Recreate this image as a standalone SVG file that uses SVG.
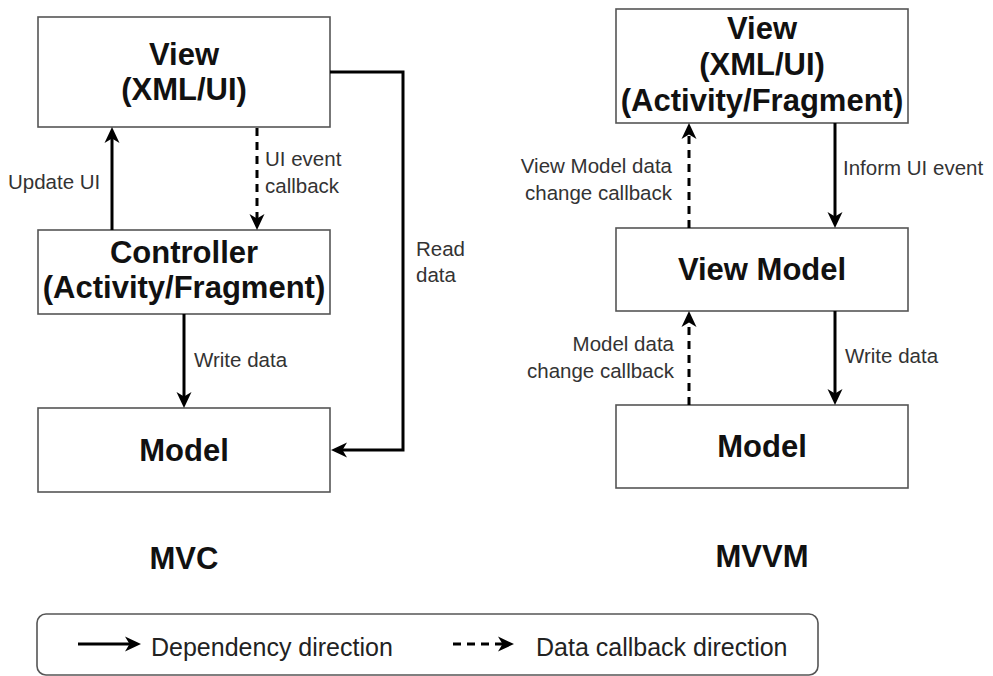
<svg xmlns="http://www.w3.org/2000/svg" width="993" height="676" viewBox="0 0 993 676">
  <style>
    .box { fill: #ffffff; stroke: #555555; stroke-width: 1.6; }
    .title { font-family: "Liberation Sans", Arial, sans-serif; font-weight: bold; font-size: 31px; fill: #111111; text-anchor: middle; }
    .lbl { font-family: "Liberation Sans", Arial, sans-serif; font-size: 20.5px; fill: #333333; }
    .lbl-r { text-anchor: end; }
    .legend { font-family: "Liberation Sans", Arial, sans-serif; font-size: 25px; fill: #222222; }
    .solid { fill: none; stroke: #000000; stroke-width: 3; }
    .dash { fill: none; stroke: #000000; stroke-width: 3; stroke-dasharray: 8 6; }
  </style>
  <defs>
    <marker id="head" markerUnits="userSpaceOnUse" markerWidth="18" markerHeight="18" viewBox="0 0 18 18" refX="8" refY="9" orient="auto">
      <path d="M1,1.5 L17,9 L1,16.5 L5.5,9 Z" fill="#000000"/>
    </marker>
  </defs>

  <rect width="993" height="676" fill="#ffffff"/>

  <!-- MVC -->
  <g id="mvc-view">
    <rect class="box" x="38" y="17" width="292" height="110"/>
    <text class="title" x="184" y="65">View</text>
    <text class="title" x="184" y="100">(XML/UI)</text>
  </g>
  <g id="mvc-controller">
    <rect class="box" x="38" y="230" width="292" height="84"/>
    <text class="title" x="184" y="263">Controller</text>
    <text class="title" x="184" y="298">(Activity/Fragment)</text>
  </g>
  <g id="mvc-model">
    <rect class="box" x="38" y="408" width="292" height="84"/>
    <text class="title" x="184" y="461">Model</text>
  </g>
  <g id="mvc-caption">
    <text class="title" x="184" y="569">MVC</text>
  </g>

  <!-- MVVM -->
  <g id="mvvm-view">
    <rect class="box" x="616" y="9" width="292" height="114"/>
    <text class="title" x="762" y="39">View</text>
    <text class="title" x="762" y="75">(XML/UI)</text>
    <text class="title" x="762" y="111">(Activity/Fragment)</text>
  </g>
  <g id="mvvm-viewmodel">
    <rect class="box" x="616" y="228" width="292" height="83"/>
    <text class="title" x="762" y="280">View Model</text>
  </g>
  <g id="mvvm-model">
    <rect class="box" x="616" y="405" width="292" height="83"/>
    <text class="title" x="762" y="457">Model</text>
  </g>
  <g id="mvvm-caption">
    <text class="title" x="762" y="567">MVVM</text>
  </g>

  <!-- connectors -->
  <g id="connectors">
    <!-- MVC -->
    <line class="solid" x1="112" y1="230" x2="112" y2="136" marker-end="url(#head)"/>
    <line class="dash" x1="257" y1="128" x2="257" y2="221" marker-end="url(#head)"/>
    <line class="solid" x1="184" y1="314" x2="184" y2="399" marker-end="url(#head)"/>
    <polyline class="solid" points="330,72 403,72 403,450 340,450" marker-end="url(#head)"/>

    <!-- MVVM -->
    <line class="dash" x1="689" y1="228" x2="689" y2="132" marker-end="url(#head)"/>
    <line class="solid" x1="835" y1="123" x2="835" y2="219" marker-end="url(#head)"/>
    <line class="dash" x1="689" y1="405" x2="689" y2="320" marker-end="url(#head)"/>
    <line class="solid" x1="835" y1="311" x2="835" y2="396" marker-end="url(#head)"/>
  </g>

  <!-- connector labels -->
  <g id="labels">
    <text class="lbl" x="8" y="189">Update UI</text>
    <text class="lbl" x="265" y="166">UI event</text>
    <text class="lbl" x="265" y="193">callback</text>
    <text class="lbl" x="194" y="367">Write data</text>
    <text class="lbl" x="416" y="256">Read</text>
    <text class="lbl" x="416" y="282">data</text>

    <text class="lbl lbl-r" x="672" y="173">View Model data</text>
    <text class="lbl lbl-r" x="672" y="200">change callback</text>
    <text class="lbl" x="843" y="175">Inform UI event</text>
    <text class="lbl lbl-r" x="674" y="351">Model data</text>
    <text class="lbl lbl-r" x="674" y="378">change callback</text>
    <text class="lbl" x="845" y="363">Write data</text>
  </g>

  <!-- legend -->
  <g id="legend">
    <rect x="37" y="614" width="781" height="61" rx="9" ry="9" fill="#ffffff" stroke="#555555" stroke-width="1.6"/>
    <line class="solid" x1="78" y1="644" x2="132" y2="644" marker-end="url(#head)"/>
    <text class="legend" x="151" y="656">Dependency direction</text>
    <line class="dash" x1="453" y1="644" x2="505" y2="644" marker-end="url(#head)"/>
    <text class="legend" x="536" y="656">Data callback direction</text>
  </g>
</svg>
